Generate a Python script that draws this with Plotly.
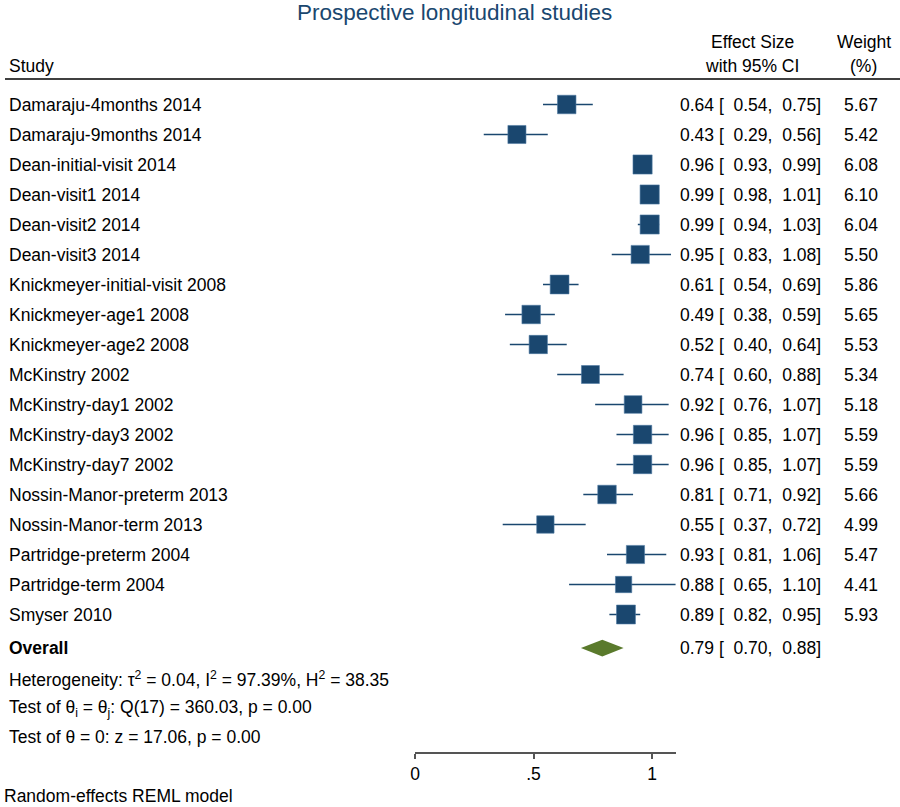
import plotly.graph_objects as go

# Study-level data
studies = [
    "Damaraju-4months 2014", "Damaraju-9months 2014", "Dean-initial-visit 2014",
    "Dean-visit1 2014", "Dean-visit2 2014", "Dean-visit3 2014",
    "Knickmeyer-initial-visit 2008", "Knickmeyer-age1 2008", "Knickmeyer-age2 2008",
    "McKinstry 2002", "McKinstry-day1 2002", "McKinstry-day3 2002",
    "McKinstry-day7 2002", "Nossin-Manor-preterm 2013", "Nossin-Manor-term 2013",
    "Partridge-preterm 2004", "Partridge-term 2004", "Smyser 2010",
]
effect = [0.64, 0.43, 0.96, 0.99, 0.99, 0.95, 0.61, 0.49, 0.52, 0.74, 0.92, 0.96, 0.96, 0.81, 0.55, 0.93, 0.88, 0.89]
lower = [0.54, 0.29, 0.93, 0.98, 0.94, 0.83, 0.54, 0.38, 0.40, 0.60, 0.76, 0.85, 0.85, 0.71, 0.37, 0.81, 0.65, 0.82]
upper = [0.75, 0.56, 0.99, 1.01, 1.03, 1.08, 0.69, 0.59, 0.64, 0.88, 1.07, 1.07, 1.07, 0.92, 0.72, 1.06, 1.10, 0.95]
weight = [5.67, 5.42, 6.08, 6.10, 6.04, 5.50, 5.86, 5.65, 5.53, 5.34, 5.18, 5.59, 5.59, 5.66, 4.99, 5.47, 4.41, 5.93]

# Overall estimate
overall_es, overall_lo, overall_hi = 0.79, 0.70, 0.88

tick_vals = [0, 0.5, 1]
tick_text = ["0", ".5", "1"]

NAVY = "#1a476f"
GREEN = "#5a7a2c"
FONT = "Arial, Liberation Sans, sans-serif"
FS = 17.5

W, H = 900, 807


def px(x):
    return x / W


def py(y):
    return 1 - y / H


ROW0 = 104.5   # pixel of first row
STEP = 30

rows = list(range(len(studies)))
row_overall = 18.12
row_het = [19.15, 20.12, 21.08]

fig = go.Figure()

# Study squares with CI lines
fig.add_trace(go.Scatter(
    x=effect, y=rows, mode="markers",
    marker=dict(symbol="square", color=NAVY, opacity=1,
                size=[18.5 * (w / 5.67) ** 0.5 for w in weight],
                line=dict(width=0.6, color="#4f7aa3")),
    error_x=dict(type="data", symmetric=False,
                 array=[h - e for h, e in zip(upper, effect)],
                 arrayminus=[e - l for e, l in zip(effect, lower)],
                 width=0, thickness=1.5, color=NAVY),
    showlegend=False, hoverinfo="skip",
))

# Overall diamond
h = 0.28
fig.add_trace(go.Scatter(
    x=[overall_lo, overall_es, overall_hi, overall_es, overall_lo],
    y=[row_overall, row_overall - h, row_overall, row_overall + h, row_overall],
    mode="lines", fill="toself", fillcolor=GREEN,
    line=dict(width=0, color=GREEN),
    showlegend=False, hoverinfo="skip",
))

LX = px(2)
ann = []
for i, s in enumerate(studies):
    ann.append(dict(x=LX, y=i, xref="paper", yref="y", text=s,
                    xanchor="left", yanchor="middle", showarrow=False))
    ann.append(dict(x=px(823), y=i, xref="paper", yref="y",
                    text=f"{effect[i]:.2f} [  {lower[i]:.2f},  {upper[i]:.2f}]",
                    xanchor="right", yanchor="middle", showarrow=False))
    ann.append(dict(x=px(880), y=i, xref="paper", yref="y", text=f"{weight[i]:.2f}",
                    xanchor="right", yanchor="middle", showarrow=False))

ann.append(dict(x=LX, y=row_overall, xref="paper", yref="y", text="<b>Overall</b>",
                xanchor="left", yanchor="middle", showarrow=False))
ann.append(dict(x=px(823), y=row_overall, xref="paper", yref="y",
                text=f"{overall_es:.2f} [  {overall_lo:.2f},  {overall_hi:.2f}]",
                xanchor="right", yanchor="middle", showarrow=False))

het_text = [
    "Heterogeneity: τ<sup>2</sup> = 0.04, I<sup>2</sup> = 97.39%, H<sup>2</sup> = 38.35",
    "Test of θ<sub>i</sub> = θ<sub>j</sub>: Q(17) = 360.03, p = 0.00",
    "Test of θ = 0: z = 17.06, p = 0.00",
]
for r, t in zip(row_het, het_text):
    ann.append(dict(x=LX, y=r, xref="paper", yref="y", text=t,
                    xanchor="left", yanchor="middle", showarrow=False))

# Header, footer and title
extra = [
    dict(x=LX, y=py(66), text="Study", xanchor="left"),
    dict(x=px(752), y=py(42), text="Effect Size", xanchor="center"),
    dict(x=px(751), y=py(66), text="with 95% CI", xanchor="center"),
    dict(x=px(864), y=py(42), text="Weight", xanchor="center"),
    dict(x=px(863), y=py(66), text="(%)", xanchor="center"),
    dict(x=px(-3), y=py(796), text="Random-effects REML model", xanchor="left"),
    dict(x=px(452), y=py(12), text="Prospective longitudinal studies", xanchor="center",
         font=dict(size=22.5, color=NAVY, family=FONT)),
]
for a in extra:
    a.update(xref="paper", yref="paper", yanchor="middle", showarrow=False)
ann += extra

fig.update_layout(
    width=W, height=H,
    margin=dict(l=0, r=0, t=0, b=0, pad=0),
    paper_bgcolor="white", plot_bgcolor="white",
    font=dict(family=FONT, size=FS, color="black"),
    annotations=ann,
    shapes=[dict(type="line", xref="paper", yref="paper", x0=0, x1=1,
                 y0=py(79), y1=py(79), line=dict(color="black", width=1.5))],
    xaxis=dict(domain=[px(412.3), px(674.5)], range=[0, 1.1],
               anchor="free", position=py(753),
               showline=True, linecolor="#555555", linewidth=1.5,
               ticks="outside", ticklen=5, tickwidth=1.5, tickcolor="#555555",
               tickvals=tick_vals, ticktext=tick_text,
               tickfont=dict(size=FS, color="black"),
               showgrid=False, zeroline=False),
    yaxis=dict(domain=[0, 1], range=[(H - ROW0) / STEP, -ROW0 / STEP],
               visible=False, showgrid=False, zeroline=False),
)

# drop the default page margin so the figure sits at the window's corner
fig.write_html("out.html", config={"displayModeBar": False},
               post_script="document.body.style.margin='0px';")
